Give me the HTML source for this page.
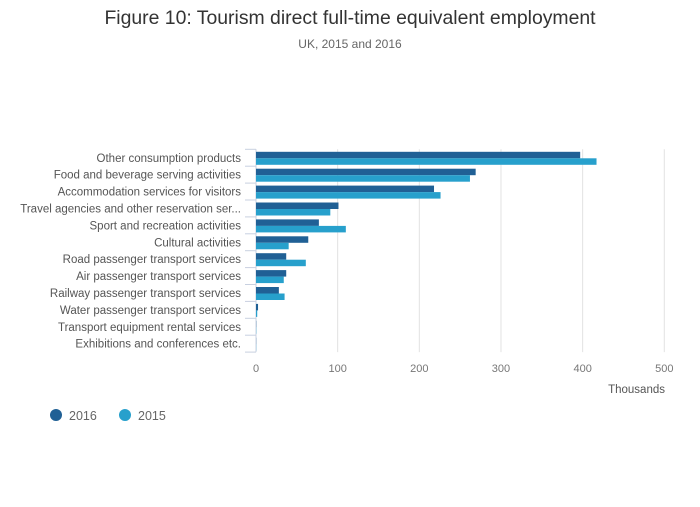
<!DOCTYPE html>
<html><head><meta charset="utf-8"><style>
body{margin:0;background:#fff;font-family:"Liberation Sans",sans-serif}
svg text{font-family:"Liberation Sans",sans-serif}
</style></head><body>
<svg width="700" height="502" id="chartsvg">
<text x="350" y="24" text-anchor="middle" font-size="19.4" fill="#333">Figure 10: Tourism direct full-time equivalent employment</text>
<text x="350" y="48" text-anchor="middle" font-size="12" fill="#666">UK, 2015 and 2016</text>
<g id="gridG"></g><g id="barsG"></g><g id="labelsG"></g>
<text x="665" y="393" text-anchor="end" font-size="11.5" fill="#555">Thousands</text>
<g><circle cx="56" cy="415" r="6" fill="#206095"/><text x="69" y="420" font-size="12.5" fill="#666">2016</text></g>
<g><circle cx="125" cy="415" r="6" fill="#27a0cc"/><text x="138" y="420" font-size="12.5" fill="#666">2015</text></g>
</svg>
<script>
const categories=["Other consumption products","Food and beverage serving activities","Accommodation services for visitors","Travel agencies and other reservation ser...","Sport and recreation activities","Cultural activities","Road passenger transport services","Air passenger transport services","Railway passenger transport services","Water passenger transport services","Transport equipment rental services","Exhibitions and conferences etc."];
const values2016=[397,269,218,101,77,64,37,37,28,2.5,0.3,0.2];
const values2015=[417,262,226,91,110,40,61,34,35,1.5,0.3,0.2];
const ticks=[0,100,200,300,400,500];
const NS="http://www.w3.org/2000/svg";
const xs=v=>256+v*0.8166, plotTop=149.3, rowH=16.9;
function mk(t,a,p){const e=document.createElementNS(NS,t);for(const k in a)e.setAttribute(k,a[k]);p.appendChild(e);return e;}
const gg=document.getElementById('gridG'),bg=document.getElementById('barsG'),lg=document.getElementById('labelsG');
ticks.forEach(t=>{
 if(t>0){const ln=mk('line',{x1:xs(t),x2:xs(t),y1:plotTop,y2:plotTop+rowH*12,stroke:'#e2e2e2'},gg);
 
 }
 const tx=mk('text',{x:xs(t),y:372,'text-anchor':'middle','font-size':11,fill:'#777'},lg);tx.textContent=t;
 
 
});
mk('line',{x1:256,x2:256,y1:plotTop,y2:plotTop+rowH*12,stroke:'#c8d0e0'},gg);
for(let i=0;i<=12;i++){mk('line',{x1:245,x2:256,y1:plotTop+i*rowH,y2:plotTop+i*rowH,stroke:'#c8d0e0'},gg);}
categories.forEach((c,i)=>{
 const y0=plotTop+i*rowH;
 const r1=mk('rect',{x:256,y:y0+2.5,width:xs(values2016[i])-256,height:6.5,fill:'#206095'},bg);
 
 
 const r2=mk('rect',{x:256,y:y0+9,width:xs(values2015[i])-256,height:6.5,fill:'#27a0cc'},bg);
 
 
 const t=mk('text',{x:241,y:y0+12.5,'text-anchor':'end','font-size':11.5,fill:'#555'},lg);t.textContent=c;
 
 
});
</script>
</body></html>
